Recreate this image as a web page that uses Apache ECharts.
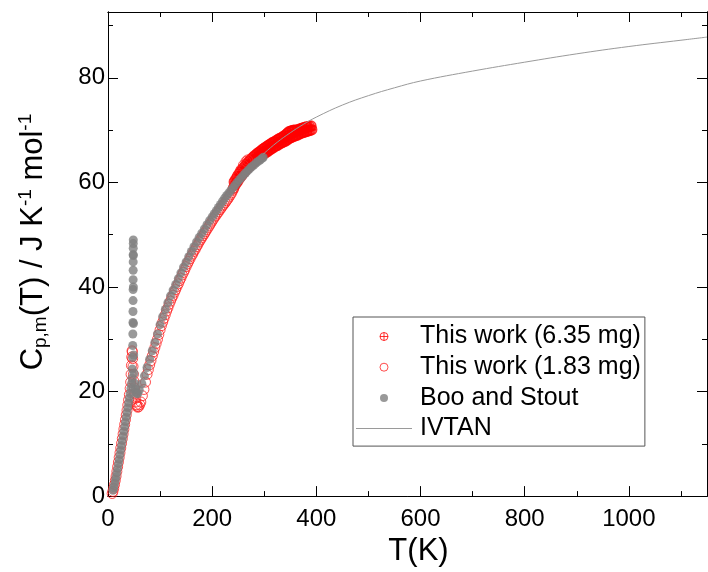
<!DOCTYPE html>
<html>
<head>
<meta charset="utf-8">
<script src="https://cdn.jsdelivr.net/npm/echarts@6/dist/echarts.min.js"></script>
<style>
  html, body { margin: 0; padding: 0; background: #fff; }
  #chart { width: 708px; height: 572px; }
</style>
</head>
<body>
<div id="chart"></div>
<script>
// Molar heat capacity data, T in K, Cp in J K-1 mol-1

// This work, 6.35 mg sample (two measurement runs)
const work635T = [241, 244, 247, 250, 253, 256, 259, 262, 265, 268, 271, 274, 277, 280, 283, 286, 289, 292,
  295, 298, 301, 304, 307, 310, 313, 316, 319, 322, 325, 328, 331, 334, 337, 340, 343, 346, 349, 352, 355,
  358, 361, 364, 367, 370, 373, 376, 379, 382, 385, 388, 391,
  242.5, 245.5, 248.5, 251.5, 254.5, 257.5, 260.5, 263.5, 266.5, 269.5, 272.5, 275.5, 278.5, 281.5, 284.5,
  287.5, 290.5, 293.5, 296.5, 299.5, 302.5, 305.5, 308.5, 311.5, 314.5, 317.5, 320.5, 323.5, 326.5, 329.5,
  332.5, 335.5, 338.5, 341.5, 344.5, 347.5, 350.5, 353.5, 356.5, 359.5, 362.5, 365.5, 368.5, 371.5, 374.5,
  377.5, 380.5, 383.5, 386.5, 389.5];
const work635Cp = [58.9, 59.5, 60.0, 60.4, 60.9, 61.3, 61.7, 62.1, 62.5, 62.8, 63.1, 63.4, 63.7, 64.0, 64.3,
  64.5, 64.8, 65.0, 65.2, 65.4, 65.6, 65.8, 66.0, 66.2, 66.4, 66.6, 66.8, 67.0, 67.1, 67.3, 67.5, 67.6, 67.8,
  67.9, 68.1, 68.3, 68.5, 68.6, 68.8, 68.9, 69.0, 69.1, 69.3, 69.4, 69.5, 69.6, 69.7, 69.8, 69.9, 70.0, 70.1,
  60.1, 60.6, 61.1, 61.6, 62.0, 62.4, 62.8, 63.2, 63.5, 63.9, 64.2, 64.5, 64.8, 65.1, 65.3, 65.6, 65.8, 66.0,
  66.3, 66.5, 66.7, 66.9, 67.1, 67.3, 67.5, 67.7, 67.8, 68.0, 68.2, 68.4, 68.5, 68.7, 68.9, 69.1, 69.4, 69.7,
  69.8, 69.9, 70.0, 70.0, 70.0, 70.1, 70.2, 70.3, 70.4, 70.5, 70.6, 70.6, 70.7, 70.8];

// This work, 1.83 mg sample
const work183T = [8, 9.5, 11, 12.5, 14, 15.5, 17, 18.5, 20, 21.5, 23, 24.5, 26, 27.5, 29, 30.5, 32, 33.5, 35,
  36.5, 38, 39.5, 41, 42.5, 43.5, 44.3, 45, 45.6, 46.2, 46.7, 47.3, 48, 48.8, 49.6, 50.5, 51.5, 52.5, 53.5,
  54.5, 55.5, 57, 59, 61, 63, 66, 69, 72, 75, 77.5, 80, 82.5, 85, 87.5, 90, 92.5, 95, 97.5, 100, 102.5, 105,
  107.5, 110, 112.5, 115, 117.5, 120, 122.5, 125, 127.5, 130, 132.5, 135, 137.5, 140, 142.5, 145, 147.5, 150,
  152.5, 155, 157.5, 160, 162.5, 165, 167.5, 170, 172.5, 175, 177.5, 180, 182.5, 185, 187.5, 190, 192.5, 195,
  197.5, 200, 202.5, 205, 207.5, 210, 212.5, 215, 217.5, 220, 222.5, 225, 227.5, 230, 232.5, 235, 237.5, 240,
  245, 250, 255, 260, 265, 268];
const work183Cp = [0.5, 0.9, 1.5, 2.2, 3.0, 3.8, 4.7, 5.6, 6.5, 7.4, 8.3, 9.2, 10.1, 11.0, 11.9, 12.8, 13.7,
  14.6, 15.5, 16.4, 17.4, 18.4, 19.4, 20.6, 21.8, 23.3, 25.0, 26.6, 27.8, 27.6, 26.3, 24.8, 23.3, 22.0, 20.7,
  19.6, 18.7, 18.0, 17.5, 17.2, 17.0, 17.1, 17.5, 18.0, 19.2, 20.4, 21.8, 23.3, 24.2, 25.1, 25.9, 26.8, 27.6,
  28.4, 29.2, 30.0, 30.9, 31.8, 32.6, 33.3, 34.0, 34.7, 35.4, 36.0, 36.7, 37.3, 37.9, 38.4, 39.0, 39.5, 40.1,
  40.6, 41.2, 41.7, 42.3, 42.8, 43.3, 43.9, 44.4, 44.9, 45.4, 45.9, 46.3, 46.8, 47.2, 47.7, 48.1, 48.6, 49.0,
  49.4, 49.8, 50.2, 50.6, 51.0, 51.4, 51.8, 52.2, 52.6, 53.0, 53.4, 53.7, 54.1, 54.4, 54.8, 55.1, 55.5, 55.8,
  56.1, 56.5, 56.8, 57.2, 57.6, 58.0, 58.5, 60.2, 61.4, 62.4, 63.3, 64.0, 64.3];

// Boo and Stout
const booT = [9.5, 11, 12.5, 14, 15.5, 17, 18.5, 20, 21.5, 23, 24.5, 26, 27.5, 29, 30.5, 32, 33.5, 35, 36.5,
  38, 39.5, 41, 42.5, 44, 45, 46, 46.8, 47.2, 47.5, 47.7, 47.9, 48.0, 48.1, 48.2, 48.25, 48.3, 48.35, 48.4,
  48.45, 48.5, 48.55, 48.6, 48.7, 48.9, 49.3, 50, 51, 52.5, 54, 55.5, 57, 60, 65, 70, 75, 80, 85, 90, 95,
  100, 105, 110, 115, 120, 125, 130, 135, 140, 145, 150, 155, 160, 165, 170, 175, 180, 185, 190, 195, 200,
  204, 208, 212, 216, 220, 224, 228, 232, 236, 240, 244, 248, 252, 256, 260, 264, 268, 272, 276, 280, 284,
  288, 292, 296, 298];
const booCp = [1.1, 1.6, 2.3, 3.0, 3.7, 4.5, 5.3, 6.2, 7.0, 7.9, 8.8, 9.7, 10.6, 11.5, 12.4, 13.3, 14.2, 15.1,
  16.0, 16.9, 17.8, 18.7, 19.6, 20.6, 21.5, 22.6, 24.3, 26.5, 28.8, 31.0, 33.2, 35.3, 37.4, 39.5, 41.4, 43.2,
  44.8, 46.2, 47.4, 48.3, 49.0, 46.0, 40.0, 33.0, 27.0, 23.5, 21.6, 20.5, 19.9, 19.6, 19.6, 20.3, 21.5, 23.0,
  24.6, 26.2, 27.8, 29.4, 31.0, 32.8, 34.3, 35.7, 37.0, 38.3, 39.4, 40.5, 41.6, 42.7, 43.8, 44.8, 45.8, 46.8,
  47.7, 48.6, 49.5, 50.3, 51.1, 51.9, 52.7, 53.4, 54.0, 54.6, 55.2, 55.8, 56.4, 57.0, 57.5, 58.0, 58.5, 59.0,
  59.5, 60.0, 60.5, 60.9, 61.4, 61.8, 62.2, 62.6, 63.0, 63.3, 63.7, 64.0, 64.3, 64.6, 64.8];

// IVTAN reference function
const ivtanT = [298.15, 300, 325, 350, 375, 400, 450, 500, 550, 600, 700, 800, 900, 1000, 1100, 1150];
const ivtanCp = [65.4, 65.6, 67.7, 69.5, 71.1, 72.5, 74.8, 76.6, 78.1, 79.4, 81.3, 83.0, 84.6, 86.0, 87.2, 87.8];

const seriesNames = ['This work (6.35 mg)', 'This work (1.83 mg)', 'Boo and Stout', 'IVTAN'];

const FONT = '"Liberation Sans", Arial, Helvetica, sans-serif';
const T_MIN = 0, T_MAX = 1150;
const CP_MIN = 0, CP_MAX = 92.6;

function pairs(xs, ys) {
  return xs.map((x, i) => [x, ys[i]]);
}

// circle with a cross inside
const crossCircle = 'path://M0 0A10 10 0 1 1 0 20A10 10 0 1 1 0 0ZM-10 10L10 10M0 0L0 20';
// thin horizontal bar for the line entry of the legend
const legendLine = 'path://M0 0L56 0L56 1L0 1Z';

function frameAxis(kind, position, interval, tickLen, withLabels) {
  return {
    type: 'value',
    position: position,
    min: kind === 'x' ? T_MIN : CP_MIN,
    max: kind === 'x' ? T_MAX : CP_MAX,
    interval: interval,
    axisLine: { show: true, onZero: false, lineStyle: { color: '#000', width: 1 } },
    axisTick: { show: true, inside: true, length: tickLen, lineStyle: { color: '#000', width: 1 } },
    axisLabel: withLabels
      ? { show: true, fontSize: 24, fontFamily: FONT, color: '#000', margin: kind === 'x' ? 11 : 3,
          showMaxLabel: false, formatter: (v) => String(v) }
      : { show: false },
    splitLine: { show: false },
    minorTick: { show: false }
  };
}

const xBottomMinor = frameAxis('x', 'bottom', 100, 5, false);
const xBottomMajor = frameAxis('x', 'bottom', 200, 10, true);
xBottomMajor.name = 'T(K)';
xBottomMajor.nameLocation = 'middle';
xBottomMajor.nameGap = 32;
xBottomMajor.nameTextStyle = { fontSize: 31, fontFamily: FONT, color: '#000', padding: [0, 0, 0, 22] };
const xTopMinor = frameAxis('x', 'top', 100, 5, false);
const xTopMajor = frameAxis('x', 'top', 200, 10, false);

const yLeftMinor = frameAxis('y', 'left', 10, 5, false);
const yLeftMajor = frameAxis('y', 'left', 20, 10, true);
yLeftMajor.name = '{m|C}{s|p,m}{m|(T) / J K}{u|-1}{m| mol}{u|-1}';
yLeftMajor.nameLocation = 'middle';
yLeftMajor.nameGap = 58;
yLeftMajor.nameTextStyle = {
  fontFamily: FONT, color: '#000', padding: [0, 0, 0, 24],
  rich: {
    m: { fontSize: 31, lineHeight: 34, fontFamily: FONT, color: '#000' },
    s: { fontSize: 19, lineHeight: 14, verticalAlign: 'bottom', fontFamily: FONT, color: '#000' },
    u: { fontSize: 19, lineHeight: 20, verticalAlign: 'top', fontFamily: FONT, color: '#000' }
  }
};
const yRightMinor = frameAxis('y', 'right', 10, 5, false);
const yRightMajor = frameAxis('y', 'right', 20, 10, false);

const option = {
  animation: false,
  backgroundColor: '#fff',
  grid: { left: 108, right: 1, top: 12, bottom: 70, containLabel: false },
  xAxis: [xBottomMinor, xBottomMajor, xTopMinor, xTopMajor],
  yAxis: [yLeftMinor, yLeftMajor, yRightMinor, yRightMajor],
  legend: {
    orient: 'vertical',
    left: 353,
    top: 317,
    itemWidth: 56,
    itemHeight: 8,
    itemGap: 5.7,
    padding: [7, 4, 5, 3],
    borderColor: '#555',
    borderWidth: 1,
    selectedMode: false,
    textStyle: { fontSize: 25, lineHeight: 25, fontFamily: FONT, color: '#000', padding: [0, 0, 0, 3] },
    data: [
      { name: seriesNames[0], itemStyle: { borderWidth: 1 } },
      { name: seriesNames[1], itemStyle: { borderWidth: 1 } },
      { name: seriesNames[2], itemStyle: { borderWidth: 0 } },
      { name: seriesNames[3], icon: legendLine, itemStyle: { color: '#9a9a9a', borderWidth: 0 } }
    ]
  },
  series: [
    {
      name: seriesNames[0],
      type: 'scatter',
      xAxisIndex: 1, yAxisIndex: 1,
      symbol: crossCircle,
      symbolSize: 10,
      itemStyle: { color: 'rgba(255,0,0,0)', borderColor: '#ff0000', borderWidth: 1.5 },
      emphasis: { disabled: true },
      silent: true,
      data: pairs(work635T, work635Cp)
    },
    {
      name: seriesNames[1],
      type: 'scatter',
      xAxisIndex: 1, yAxisIndex: 1,
      symbol: 'circle',
      symbolSize: 10,
      itemStyle: { color: 'rgba(255,0,0,0)', borderColor: '#ff2020', borderWidth: 1 },
      emphasis: { disabled: true },
      silent: true,
      data: pairs(work183T, work183Cp)
    },
    {
      name: seriesNames[2],
      type: 'scatter',
      xAxisIndex: 1, yAxisIndex: 1,
      symbol: 'circle',
      symbolSize: 9,
      itemStyle: { color: '#808080' },
      emphasis: { disabled: true },
      silent: true,
      data: pairs(booT, booCp)
    },
    {
      name: seriesNames[3],
      type: 'line',
      xAxisIndex: 1, yAxisIndex: 1,
      symbol: 'none',
      showSymbol: false,
      smooth: 0.4,
      itemStyle: { color: '#9a9a9a' },
      lineStyle: { color: '#9a9a9a', width: 1 },
      emphasis: { disabled: true },
      silent: true,
      z: 5,
      data: pairs(ivtanT, ivtanCp)
    }
  ]
};

const chart = echarts.init(document.getElementById('chart'), null, { renderer: 'canvas' });
chart.setOption(option);
</script>
</body>
</html>
